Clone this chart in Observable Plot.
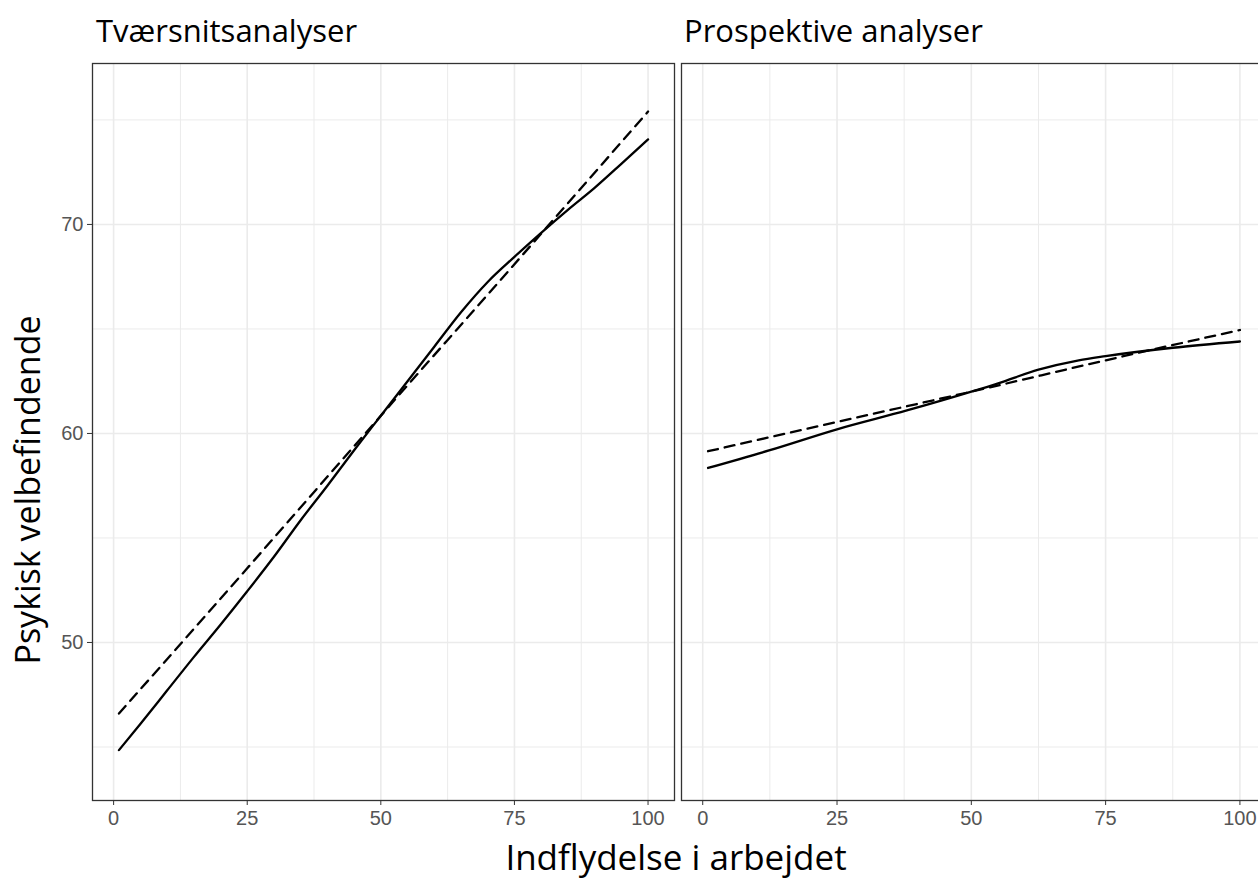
<!DOCTYPE html>
<html><head><meta charset="utf-8">
<script src="https://cdn.jsdelivr.net/npm/d3@7"></script>
<script src="https://cdn.jsdelivr.net/npm/@observablehq/plot@0.6"></script>
<style>
html,body{margin:0;padding:0;background:#fff;overflow:hidden;width:1258px;height:879px}
#root{position:relative;width:1258px;height:879px;overflow:hidden;background:#fff}
#root svg.panel{position:absolute;top:0}
#overlay{position:absolute;left:0;top:0;pointer-events:none}
</style></head><body><div id="root"></div>
<script>
// ---- data ----
const panelTitles = ["Tværsnitsanalyser", "Prospektive analyser"];
const xTitle = "Indflydelse i arbejdet";
const yTitle = "Psykisk velbefindende";
const xTicks = [0, 25, 50, 75, 100];
const xMinor = [12.5, 37.5, 62.5, 87.5];
const yTicks = [50, 60, 70];
const yMinor = [45, 55, 65, 75];

// Tværsnitsanalyser (cross-sectional)
const crossSolidX = [1, 5, 10, 15, 20, 25, 30, 35, 40, 45, 50, 55, 60, 65, 70, 75, 80, 85, 90, 95, 100];
const crossSolidY = [44.85, 46.1, 47.7, 49.3, 50.85, 52.45, 54.1, 55.85, 57.5, 59.2, 60.85, 62.5, 64.15, 65.8, 67.25, 68.45, 69.6, 70.7, 71.75, 72.9, 74.07];
const crossDashX = [1, 25, 50, 75, 100];
const crossDashY = [46.6, 53.55, 60.85, 68.1, 75.4];

// Prospektive analyser
const prospSolidX = [1, 12.5, 25, 38, 50, 55, 62.5, 70, 75, 87.5, 100];
const prospSolidY = [58.35, 59.2, 60.2, 61.1, 62.0, 62.4, 63.05, 63.5, 63.7, 64.1, 64.4];
const prospDashX = [1, 25, 50, 75, 100];
const prospDashY = [59.15, 60.55, 62.0, 63.5, 64.95];

// ---- layout ----
const root = document.getElementById("root");
const xDomain = [-3.95, 104.95];
const yDomain = [42.44, 77.7];
const H = 840, mTop = 63, mBottom = 40;
const tickFont = "'Liberation Sans', Arial, sans-serif";

function toRows(xs, ys) { return xs.map((x, i) => ({x, y: ys[i]})); }

function panel(solid, dashed, showY, left, width, mLeft, mRight) {
  const marks = [
    Plot.gridX(xMinor, {stroke: "#ebebeb", strokeOpacity: 1, strokeWidth: 1}),
    Plot.gridY(yMinor, {stroke: "#ebebeb", strokeOpacity: 1, strokeWidth: 1}),
    Plot.gridX(xTicks, {stroke: "#ebebeb", strokeOpacity: 1, strokeWidth: 1.6}),
    Plot.gridY(yTicks, {stroke: "#ebebeb", strokeOpacity: 1, strokeWidth: 1.6}),
    Plot.line(dashed, {x: "x", y: "y", stroke: "black", strokeWidth: 2.3, strokeDasharray: "10,7", curve: "monotone-x"}),
    Plot.line(solid, {x: "x", y: "y", stroke: "black", strokeWidth: 2.3, curve: "monotone-x"}),
    Plot.frame({stroke: "#333", strokeWidth: 1.3}),
    Plot.axisX(xTicks, {tickSize: 5, tickPadding: 5, stroke: "#333", fill: "#555", fontSize: 20, label: null})
  ];
  if (showY) marks.push(Plot.axisY(yTicks, {tickSize: 5, tickPadding: 4, stroke: "#333", fill: "#555", fontSize: 20, label: null}));
  const svg = Plot.plot({
    width, height: H,
    marginTop: mTop, marginBottom: mBottom, marginLeft: mLeft, marginRight: mRight,
    x: {domain: xDomain, label: null},
    y: {domain: yDomain, label: null, axis: showY ? undefined : null},
    style: {background: "transparent", overflow: "visible", fontFamily: tickFont},
    marks
  });
  svg.classList.add("panel");
  svg.style.left = left + "px";
  root.appendChild(svg);
}

panel(toRows(crossSolidX, crossSolidY), toRows(crossDashX, crossDashY), true, 0, 680, 92, 6);
panel(toRows(prospSolidX, prospSolidY), toRows(prospDashX, prospDashY), false, 671, 605, 10, 10);

// ---- titles ----
const ov = d3.select(root).append("svg").attr("id", "overlay").attr("width", 1258).attr("height", 879);
const titleFont = "'Open Sans', sans-serif";
ov.append("text").attr("x", 96).attr("y", 42).attr("font-family", titleFont).attr("font-size", 31).text(panelTitles[0]);
ov.append("text").attr("x", 684).attr("y", 42).attr("font-family", titleFont).attr("font-size", 31).text(panelTitles[1]);
ov.append("text").attr("x", 676).attr("y", 870).attr("text-anchor", "middle").attr("font-family", titleFont).attr("font-size", 35).text(xTitle);
ov.append("text").attr("transform", "translate(40,490) rotate(-90)").attr("text-anchor", "middle").attr("font-family", titleFont).attr("font-size", 34).text(yTitle);
</script></body></html>
